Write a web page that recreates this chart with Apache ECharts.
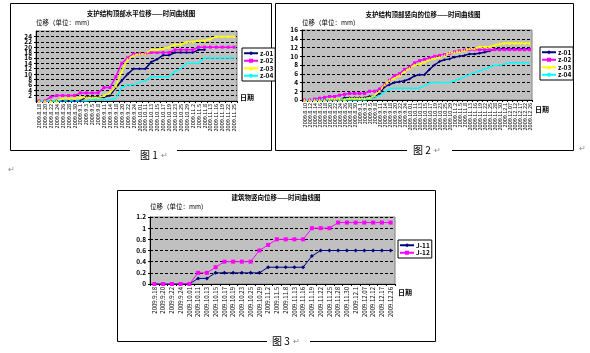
<!DOCTYPE html>
<html>
<head>
<meta charset="utf-8">
<script src="https://cdn.jsdelivr.net/npm/echarts@6/dist/echarts.min.js"></script>
<style>
  html, body { margin: 0; padding: 0; background: #fff; }
  #main { width: 590px; height: 353px; }
</style>
</head>
<body>
<div id="main"></div>
<script>
// 图1 支护结构顶部水平位移
const dates1 = ["2009.8.18", "2009.8.20", "2009.8.22", "2009.8.24", "2009.8.26", "2009.8.28", "2009.8.30",
  "2009.9.1", "2009.9.3", "2009.9.5", "2009.9.8", "2009.9.11", "2009.9.14", "2009.9.18", "2009.9.20",
  "2009.9.22", "2009.9.24", "2009.10.01", "2009.10.11", "2009.10.13", "2009.10.15", "2009.10.17",
  "2009.10.19", "2009.10.23", "2009.10.25", "2009.10.29", "2009.11.2", "2009.11.5", "2009.11.8",
  "2009.11.13", "2009.11.16", "2009.11.19", "2009.11.22", "2009.11.25"];
const c1z01 = [0, 0, 0, 0, 0, 0, 0, 0, 1.5, 1.5, 1.5, 1.5, 2, 5, 7.5, 10, 12, 12, 12, 14.5, 15.5, 17, 17,
  18, 18, 18, 18, 19, 19, null, null, null, null, null];
const c1z02 = [0, 0, 1.5, 2, 2, 2, 2, 3, 3, 3, 3, 5, 5, 9, 14, 16, 17.5, 17.5, 17.5, 18, 18, 18, 18,
  19, 19, 19, 19, 20, 20, 20, 20, 20, 20, 20];
const c1z03 = [0, 0, 0, 0, 1, 1, 1, 1.3, 1.3, 1.3, 1.3, 2, 3, 5.5, 11, 15.5, 17, 17.5, 17.5, 19, 19,
  19.5, 20, 21, 21, 22, 22, 22.5, 22.5, 23, 24, 24, 24, 24];
const c1z04 = [0, 0, 0, 0, 0, 0, 0, 0, 0, 0.5, 0.5, 0.5, 0.5, 1, 5, 6, 6, 7, 7.5, 9, 9, 9, 9, 11, 12,
  14, 14, 14, 16, 16, 16, 16, 16, 16];

// 图2
const dates2 = ["2009.8.10", "2009.8.12", "2009.8.14", "2009.8.16", "2009.8.18", "2009.8.20", "2009.8.22",
  "2009.8.24", "2009.8.26", "2009.8.28", "2009.8.30", "2009.9.1", "2009.9.3", "2009.9.5", "2009.9.8",
  "2009.9.11", "2009.9.14", "2009.9.18", "2009.9.20", "2009.9.22", "2009.9.24", "2009.10.01",
  "2009.10.11", "2009.10.13", "2009.10.15", "2009.10.17", "2009.10.19", "2009.10.23", "2009.10.25",
  "2009.10.29", "2009.11.2", "2009.11.5", "2009.11.8", "2009.11.13", "2009.11.16", "2009.11.19",
  "2009.11.22", "2009.11.25", "2009.11.28", "2009.11.30", "2009.12.1", "2009.12.07", "2009.12.12",
  "2009.12.17", "2009.12.22", "2009.12.26"];
const c2z01 = [0, 0, 0, 0, 0, 0, 0, 0, 0.5, 0.5, 0.5, 0.5, 0.5, 0.8, 0.8, 1.5, 3, 3.5, 4, 4.2, 4.4, 4.8,
  5.5, 5.8, 5.8, 7, 8, 8.8, 9.2, 9.4, 9.8, 10, 10.2, 10.5, 10.5, 10.7, 10.9, 11.2,
  11.7, 11.7, 11.7, 11.7, 11.7, 11.7, 11.7, 11.7];
const c2z02 = [0, 0, 0.2, 0.4, 0.6, 0.8, 0.8, 1.1, 1.3, 1.5, 1.5, 1.5, 1.5, 2, 2, 2.5, 3.5, 4.5, 5.6, 6,
  7, 7.5, 8.5, 9, 9.3, 9.6, 10, 10.2, 10.4, 10.6, 11, 11.2, 11.4, 11.5,
  11.5, 11.5, 11.5, 11.5, 11.5, 11.5, 11.5, 11.5, 11.5, 11.5, 11.5, 11.5];
const c2z03 = [0, 0, 0, 0, 0, 0.2, 0.2, 0.2, 0.2, 0.4, 0.4, 0.4, 0.4, 0.5, 1, 2, 3.5, 4.5, 5, 5.6, 6.5,
  7.3, 8, 8.2, 8.7, 9.2, 9.5, 9.8, 10.2, 10.8, 10.9, 11.1, 11.3, 11.7, 11.7, 12.2, 12.2, 12.2,
  12.5, 12.8, 13, 13, 13, 13, 13, 13];
const c2z04 = [0, 0, 0, 0, 0, 0, 0, 0, 0, 0, 0, 0, 0, 0.3, 0.5, 1, 1.8, 2.5, 2.7, 2.7, 2.7, 2.7, 2.7,
  2.7, 3.3, 3.9, 4, 4, 4, 4, 4.4, 4.8, 5.3, 5.8, 6.3, 6.6, 7.1, 7.5, 7.9, 8, 8.2,
  8.5, 8.5, 8.5, 8.5, 8.5];

// 图3 建筑物竖向位移
const dates3 = ["2009.9.18", "2009.9.20", "2009.9.22", "2009.9.24", "2009.10.01", "2009.10.11",
  "2009.10.13", "2009.10.15", "2009.10.17", "2009.10.19", "2009.10.23", "2009.10.25", "2009.10.29",
  "2009.11.2", "2009.11.5", "2009.11.8", "2009.11.13", "2009.11.16", "2009.11.19", "2009.11.22",
  "2009.11.25", "2009.11.28", "2009.11.30", "2009.12.1", "2009.12.07", "2009.12.12", "2009.12.17",
  "2009.12.26"];
const j11 = [0, 0, 0, 0, 0, 0.1, 0.1, 0.2, 0.2, 0.2, 0.2, 0.2, 0.2, 0.3, 0.3, 0.3, 0.3, 0.3, 0.5,
  0.6, 0.6, 0.6, 0.6, 0.6, 0.6, 0.6, 0.6, 0.6];
const j12 = [0, 0, 0, 0, 0, 0.2, 0.2, 0.3, 0.4, 0.4, 0.4, 0.4, 0.6, 0.7, 0.8, 0.8, 0.8, 0.8, 1, 1, 1,
  1.1, 1.1, 1.1, 1.1, 1.1, 1.1, 1.1];

const zNames = ["z-01", "z-02", "z-03", "z-04"];
const jNames = ["J-11", "J-12"];

const FONT = '"Noto Sans CJK SC", "Noto Sans", sans-serif';

(function () {
  const myChart = echarts.init(document.getElementById("main"), null, { renderer: "canvas" });

  // 每个小图的x轴（日期）
  function xAxisOf(idx, data, labelSize, vAlign, namePad) {
    return {
      gridIndex: idx,
      type: "category",
      data: data,
      boundaryGap: true,
      name: "日期",
      nameLocation: "end",
      nameGap: 3,
      nameTextStyle: { fontSize: 7, fontWeight: "bold", color: "#000", fontFamily: FONT, verticalAlign: vAlign, padding: namePad },
      axisLine: { lineStyle: { color: "#000", width: 1 } },
      axisTick: { show: true, length: 2, lineStyle: { color: "#000" } },
      axisLabel: { interval: 0, rotate: 90, fontSize: labelSize, color: "#000", margin: 3, fontFamily: FONT },
      splitLine: { show: false },
    };
  }
  // y轴（位移）
  function yAxisOf(idx, max, interval, gap) {
    return {
      gridIndex: idx,
      type: "value",
      min: 0,
      max: max,
      interval: interval,
      name: "位移（单位：mm）",
      nameLocation: "end",
      nameGap: gap,
      nameTextStyle: { align: "left", fontSize: 6.5, color: "#000", fontFamily: FONT },
      axisLine: { show: true, lineStyle: { color: "#000", width: 1 } },
      axisTick: { show: true, length: 2, lineStyle: { color: "#000" } },
      axisLabel: { fontSize: 6.5, fontWeight: "bold", color: "#000", margin: 4, fontFamily: FONT },
      splitLine: { show: true, lineStyle: { color: "#000", type: [3, 2], width: 1 } },
    };
  }
  function legendOf(left, top, names) {
    return {
      orient: "vertical",
      left: left,
      top: top,
      data: names,
      selectedMode: false,
      backgroundColor: "#fff",
      borderColor: "#000",
      borderWidth: 1,
      borderRadius: 0,
      padding: [2, 2, 2, 1],
      itemGap: 1,
      itemWidth: 14,
      itemHeight: 5,
      textStyle: { fontSize: 6.5, fontWeight: "bold", color: "#000", fontFamily: FONT, padding: [0, 0, 0, -3] },
    };
  }
  function lineOf(name, idx, data, color, symbol, width, size) {
    return {
      name: name,
      type: "line",
      xAxisIndex: idx,
      yAxisIndex: idx,
      data: data,
      symbol: symbol,
      symbolSize: size,
      showSymbol: symbol !== "none",
      lineStyle: { color: color, width: width },
      itemStyle: { color: color },
      connectNulls: false,
    };
  }
  const colors = ["#000080", "#ff00ff", "#ffff00", "#00ffff"];
  const symbols = ["diamond", "rect", "triangle", "none"];

  const series = [];
  [c1z01, c1z02, c1z03, c1z04].forEach((d, i) => series.push(lineOf(zNames[i], 0, d, colors[i], symbols[i], 1.5, 3)));
  [c2z01, c2z02, c2z03, c2z04].forEach((d, i) => series.push(lineOf(zNames[i], 1, d, colors[i], symbols[i], 1.5, 3)));
  series.push(lineOf(jNames[0], 2, j11, "#000080", "diamond", 1, 4));
  series.push(lineOf(jNames[1], 2, j12, "#ff00ff", "rect", 1, 4));

  const titleStyle = { fontSize: 6.5, fontWeight: "bold", color: "#000", fontFamily: FONT };
  const capFont = "10px " + FONT;
  const markFont = "8px " + FONT;

  const option = {
    animation: false,
    textStyle: { fontFamily: FONT },
    title: [
      { text: "支护结构顶部水平位移——时间曲线图", left: 141, top: 10, textAlign: "center", padding: 0, textStyle: titleStyle },
      { text: "支护结构顶部竖向的位移——时间曲线图", left: 423, top: 11, textAlign: "center", padding: 0, textStyle: titleStyle },
      { text: "建筑物竖向位移——时间曲线图", left: 276, top: 194, textAlign: "center", padding: 0, textStyle: titleStyle },
    ],
    legend: [legendOf(242, 48, zNames), legendOf(540, 47, zNames), legendOf(398, 240, jNames)],
    grid: [
      { left: 36, top: 31, width: 201, height: 70, show: true, backgroundColor: "#c0c0c0", borderColor: "#808080", borderWidth: 1 },
      { left: 302, top: 30, width: 230, height: 70, show: true, backgroundColor: "#c0c0c0", borderColor: "#808080", borderWidth: 1 },
      { left: 150, top: 217, width: 245, height: 67, show: true, backgroundColor: "#c0c0c0", borderColor: "#808080", borderWidth: 1 },
    ],
    xAxis: [
      xAxisOf(0, dates1, 5.5, "bottom", [0, 0, 0, 0]),
      xAxisOf(1, dates2, 5.5, "top", [6, 0, 0, 0]),
      xAxisOf(2, dates3, 6, "top", [5, 0, 0, 0]),
    ],
    yAxis: [yAxisOf(0, 26, 2, 5), yAxisOf(1, 16, 2, 4), yAxisOf(2, 1.2, 0.2, 7)],
    series: series,
    // 外框和图注
    graphic: [
      { type: "polyline", silent: true, shape: { points: [[130, 150.5], [10.5, 150.5], [10.5, 3.5], [271.5, 3.5], [271.5, 150.5], [177, 150.5]] }, style: { stroke: "#000", fill: "none", lineWidth: 1 } },
      { type: "polyline", silent: true, shape: { points: [[407, 150.5], [275.5, 150.5], [275.5, 3.5], [573.5, 3.5], [573.5, 150.5], [452, 150.5]] }, style: { stroke: "#000", fill: "none", lineWidth: 1 } },
      { type: "polyline", silent: true, shape: { points: [[267, 341.5], [117.5, 341.5], [117.5, 190.5], [435.5, 190.5], [435.5, 341.5], [310, 341.5]] }, style: { stroke: "#000", fill: "none", lineWidth: 1 } },
      { type: "text", silent: true, x: 140, y: 150, style: { text: "图 1", font: capFont, fill: "#000" } },
      { type: "text", silent: true, x: 161, y: 151, style: { text: "↵", font: markFont, fill: "#888" } },
      { type: "text", silent: true, x: 413, y: 145, style: { text: "图 2", font: capFont, fill: "#000" } },
      { type: "text", silent: true, x: 434, y: 146, style: { text: "↵", font: markFont, fill: "#888" } },
      { type: "text", silent: true, x: 272, y: 336, style: { text: "图 3", font: capFont, fill: "#000" } },
      { type: "text", silent: true, x: 293, y: 337, style: { text: "↵", font: markFont, fill: "#888" } },
      { type: "text", silent: true, x: 579, y: 144, style: { text: "↵", font: markFont, fill: "#888" } },
      { type: "text", silent: true, x: 8, y: 165, style: { text: "↵", font: markFont, fill: "#888" } },
    ],
  };

  myChart.setOption(option);
  window.addEventListener("resize", function () {
    myChart.resize();
  });
})();
</script>
</body>
</html>
